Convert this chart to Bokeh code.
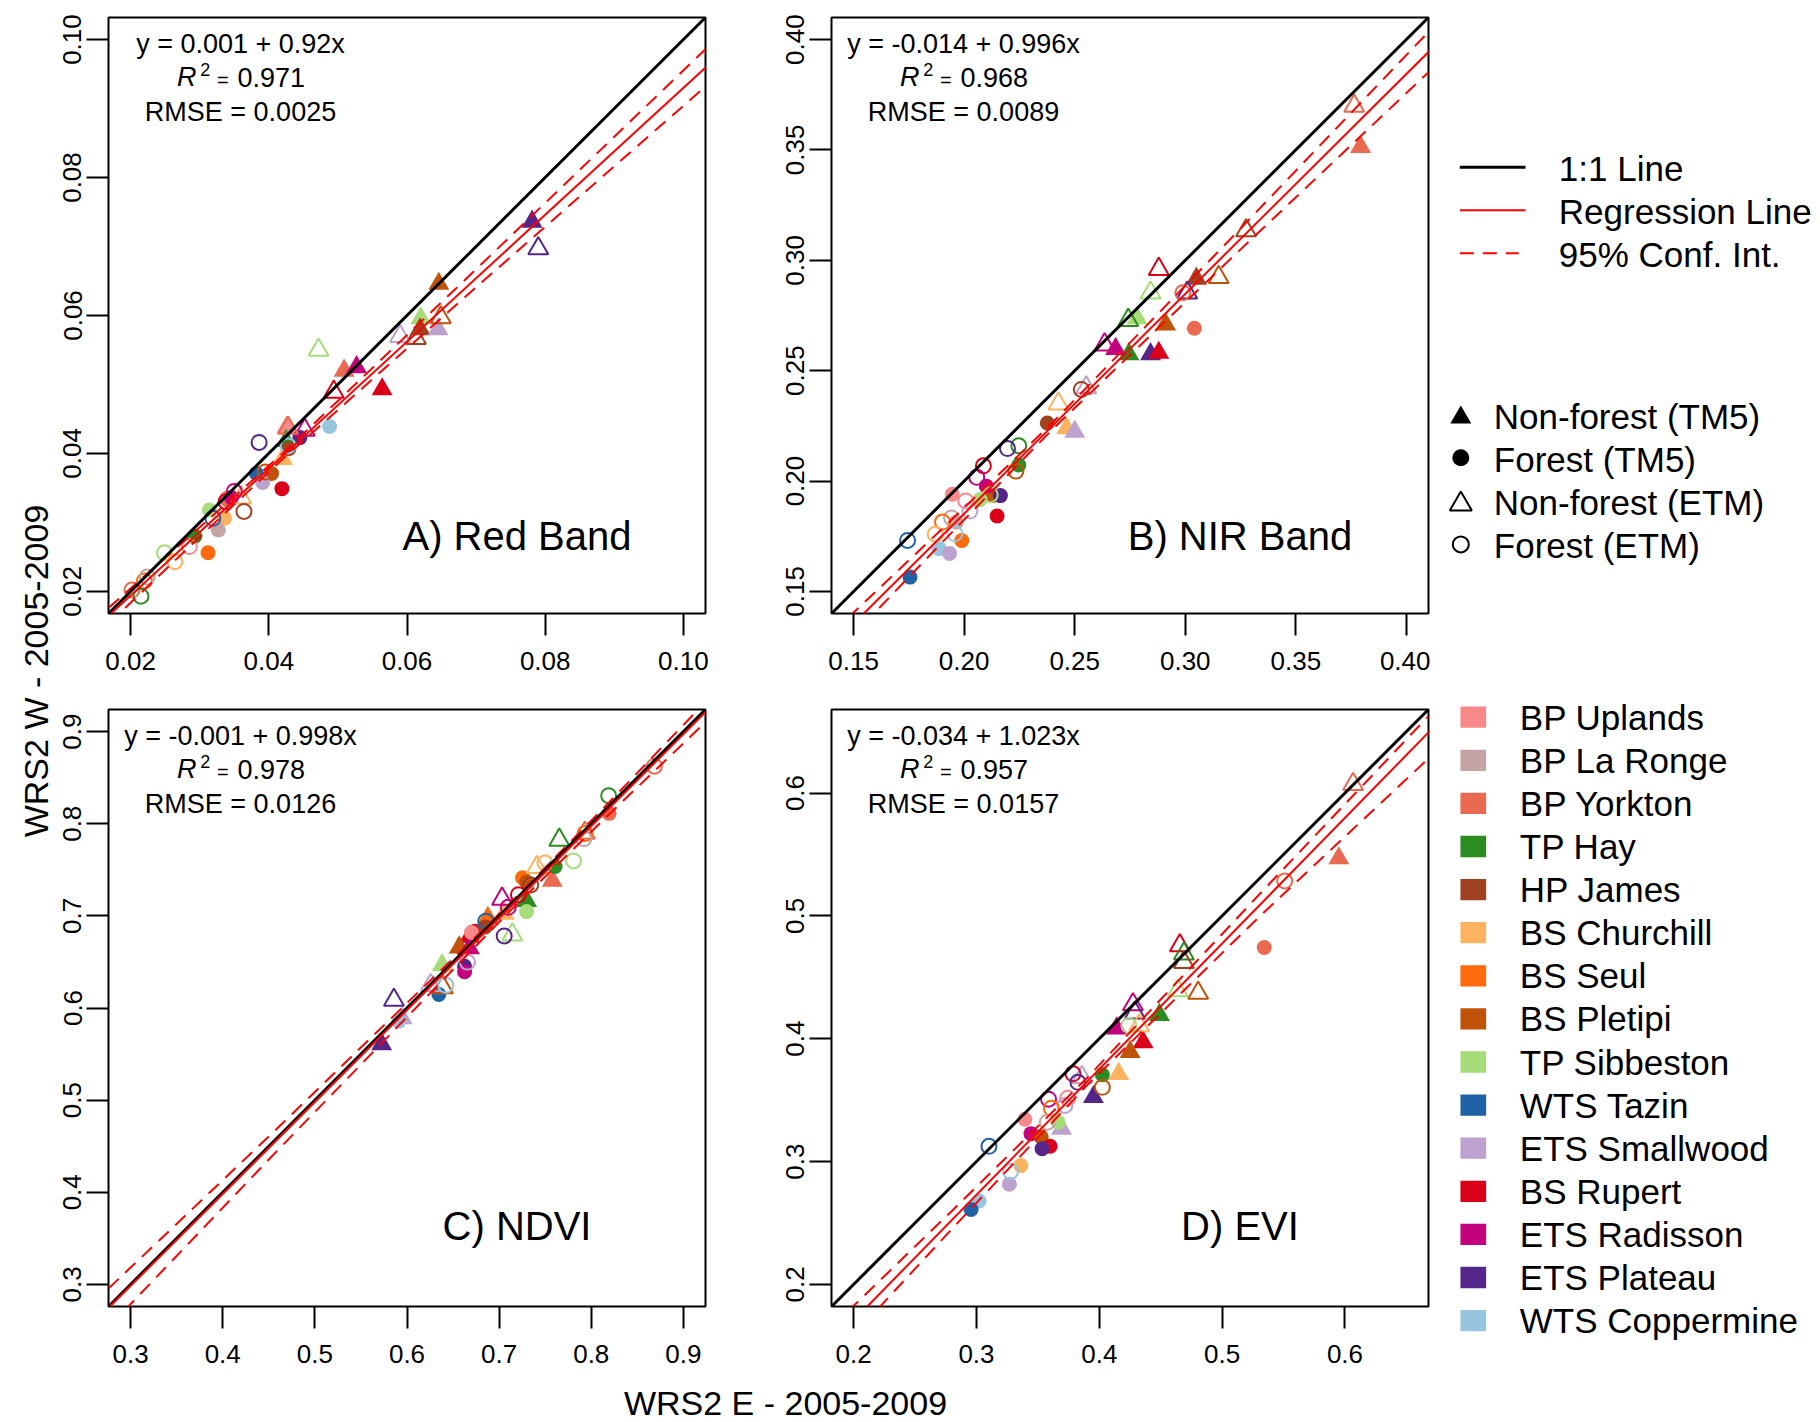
import math
from bokeh.plotting import figure
from bokeh.models import Range1d, FixedTicker, NumeralTickFormatter, Slope, Label
from bokeh.layouts import row, column
from bokeh.embed import file_html
from bokeh.resources import INLINE
from bokeh.core.properties import value

FONT = "Liberation Sans"

# ---------------- data ----------------
sites = ["BP Uplands", "BP La Ronge", "BP Yorkton", "TP Hay", "HP James",
         "BS Churchill", "BS Seul", "BS Pletipi", "TP Sibbeston", "WTS Tazin",
         "ETS Smallwood", "BS Rupert", "ETS Radisson", "ETS Plateau", "WTS Coppermine"]
site_colors = ["#F8898A", "#C4A5A4", "#E96A51", "#2B8C21", "#9F4222",
               "#FCB35F", "#FE6A0C", "#C0530A", "#A6DC7A", "#1F62A6",
               "#BDA1CE", "#DB0019", "#C3027E", "#54268A", "#97C4DE"]
kind_labels = ["Non-forest (TM5)", "Forest (TM5)", "Non-forest (ETM)", "Forest (ETM)"]
line_labels = ["1:1 Line", "Regression Line", "95% Conf. Int."]
x_title = "WRS2 E - 2005-2009"
y_title = "WRS2 W - 2005-2009"

# kind: 0 = non-forest TM5, 1 = forest TM5, 2 = non-forest ETM, 3 = forest ETM
# ---- Panel A: Red band
A_title = "A) Red Band"
A_lim = [0.02, 0.10]
A_ticks = [0.02, 0.04, 0.06, 0.08, 0.10]
A_eq, A_r2, A_rmse = "y = 0.001 + 0.92x", "0.971", "RMSE = 0.0025"
A_b0, A_b1 = 0.001, 0.92
A_ci_x = [0.0168, 0.030, 0.042, 0.070, 0.1032]
A_ci_hi = [0.0176, 0.0293, 0.0400, 0.0667, 0.0986]
A_ci_lo = [0.0153, 0.0279, 0.0392, 0.0641, 0.0932]
A_site = [13, 7, 8, 4, 10, 2, 12, 11, 5, 0, 3,
          14, 13, 4, 9, 7, 10, 11, 0, 8, 5, 1, 3, 6, 2, 12,
          13, 7, 10, 4, 8, 11, 12, 2, 5,
          13, 14, 7, 12, 4, 9, 8, 5, 0, 2, 6, 1, 3, 11]
A_kind = [0]*11 + [1]*15 + [2]*9 + [3]*14
A_x = [0.0781, 0.0646, 0.0620, 0.0619, 0.0645, 0.0509, 0.0527, 0.0564, 0.0420, 0.0426, 0.0425,
       0.0488, 0.0445, 0.0429, 0.0382, 0.0404, 0.0391, 0.0419, 0.0339, 0.0314, 0.0336, 0.0327, 0.0293, 0.0312, 0.0340, 0.0346,
       0.0790, 0.0649, 0.0590, 0.0613, 0.0472, 0.0494, 0.0452, 0.0428, 0.0360,
       0.0386, 0.0428, 0.0395, 0.0350, 0.0364, 0.0319, 0.0249, 0.0264, 0.0285, 0.0202, 0.0220, 0.0224, 0.0215, 0.0338]
A_y = [0.0736, 0.0646, 0.0596, 0.0580, 0.0580, 0.0520, 0.0525, 0.0493, 0.0392, 0.0438, 0.0418,
       0.0439, 0.0423, 0.0407, 0.0371, 0.0371, 0.0358, 0.0349, 0.0335, 0.0318, 0.0306, 0.0289, 0.0280, 0.0256, 0.0333, 0.0336,
       0.0697, 0.0597, 0.0570, 0.0567, 0.0550, 0.0489, 0.0434, 0.0437, 0.0336,
       0.0416, 0.0411, 0.0373, 0.0345, 0.0316, 0.0306, 0.0256, 0.0243, 0.0265, 0.0202, 0.0215, 0.0221, 0.0193, 0.0330]

# ---- Panel B: NIR band
B_title = "B) NIR Band"
B_lim = [0.15, 0.40]
B_ticks = [0.15, 0.20, 0.25, 0.30, 0.35, 0.40]
B_eq, B_r2, B_rmse = "y = -0.014 + 0.996x", "0.968", "RMSE = 0.0089"
B_b0, B_b1 = -0.014, 0.996
B_ci_x = [0.14, 0.19, 0.24, 0.32, 0.41]
B_ci_hi = [0.1310, 0.1783, 0.2265, 0.3092, 0.4035]
B_ci_lo = [0.1199, 0.1722, 0.2235, 0.3002, 0.3852]
B_site = [2, 4, 7, 8, 3, 13, 11, 12, 5, 10,
          2, 4, 3, 7, 12, 13, 8, 0, 11, 1, 6, 14, 10, 9,
          2, 4, 7, 11, 8, 13, 3, 12, 10, 5,
          2, 4, 3, 13, 11, 12, 7, 8, 0, 10, 1, 6, 5, 14, 9]
B_kind = [0]*10 + [1]*14 + [2]*10 + [3]*15
B_x = [0.3793, 0.3050, 0.2911, 0.2782, 0.2745, 0.2843, 0.2880, 0.2685, 0.2463, 0.2500,
       0.3041, 0.2376, 0.2247, 0.2127, 0.2100, 0.2164, 0.2072, 0.1946, 0.2149, 0.1965, 0.1989, 0.1887, 0.1934, 0.1755,
       0.3764, 0.3275, 0.3151, 0.2880, 0.2843, 0.3009, 0.2742, 0.2635, 0.2552, 0.2426,
       0.2989, 0.2530, 0.2247, 0.2196, 0.2087, 0.2057, 0.2234, 0.2118, 0.2007, 0.2026, 0.1943, 0.1902, 0.1869, 0.1958, 0.1744]
B_y = [0.3514, 0.2917, 0.2710, 0.2738, 0.2575, 0.2575, 0.2581, 0.2599, 0.2239, 0.2224,
       0.2692, 0.2263, 0.2073, 0.1934, 0.1977, 0.1934, 0.1916, 0.1940, 0.1842, 0.1814, 0.1731, 0.1694, 0.1672, 0.1565,
       0.3699, 0.3135, 0.2923, 0.2960, 0.2853, 0.2853, 0.2729, 0.2618, 0.2424, 0.2350,
       0.2853, 0.2415, 0.2160, 0.2147, 0.2069, 0.2017, 0.2045, 0.1938, 0.1910, 0.1864, 0.1833, 0.1814, 0.1759, 0.1762, 0.1731]

# ---- Panel C: NDVI
C_title = "C) NDVI"
C_lim = [0.3, 0.9]
C_ticks = [0.3, 0.4, 0.5, 0.6, 0.7, 0.8, 0.9]
C_eq, C_r2, C_rmse = "y = -0.001 + 0.998x", "0.978", "RMSE = 0.0126"
C_b0, C_b1 = -0.001, 0.998
C_ci_x = [0.276, 0.45, 0.71, 0.82, 0.924]
C_ci_hi = [0.2955, 0.4606, 0.7116, 0.8239, 0.9322]
C_ci_lo = [0.2535, 0.4356, 0.7036, 0.8109, 0.9102]
C_site = [2, 3, 5, 6, 11, 7, 12, 8, 10, 13,
          2, 3, 6, 7, 8, 11, 0, 13, 12, 9, 14, 4,
          3, 5, 12, 8, 10, 7, 13, 2,
          2, 3, 6, 1, 8, 5, 4, 11, 12, 9, 13, 10, 14]
C_kind = [0]*10 + [1]*12 + [2]*8 + [3]*13
C_x = [0.7577, 0.7298, 0.7055, 0.6877, 0.6678, 0.6567, 0.6678, 0.6381, 0.5947, 0.5725,
       0.8194, 0.7608, 0.7254, 0.7298, 0.7298, 0.6736, 0.6700, 0.6625, 0.6625, 0.6346, 0.5911, 0.6850,
       0.7653, 0.7409, 0.7032, 0.7143, 0.6257, 0.6390, 0.5858, 0.7930,
       0.8685, 0.8189, 0.7932, 0.7919, 0.7808, 0.7498, 0.7343, 0.7210, 0.7099, 0.6855, 0.7055, 0.6656, 0.6421]
C_y = [0.7381, 0.7162, 0.7024, 0.6979, 0.6773, 0.6658, 0.6649, 0.6466, 0.5890, 0.5607,
       0.8113, 0.7536, 0.7413, 0.7367, 0.7047, 0.6832, 0.6820, 0.6453, 0.6393, 0.6146, 0.5858, 0.6880,
       0.7825, 0.7527, 0.7184, 0.6796, 0.6247, 0.6224, 0.6087, 0.7900,
       0.8625, 0.8305, 0.7893, 0.7838, 0.7596, 0.7573, 0.7335, 0.7230, 0.7093, 0.6942, 0.6782, 0.6498, 0.6247]

# ---- Panel D: EVI
D_title = "D) EVI"
D_lim = [0.2, 0.65]
D_ticks = [0.2, 0.3, 0.4, 0.5, 0.6]
D_eq, D_r2, D_rmse = "y = -0.034 + 1.023x", "0.957", "RMSE = 0.0157"
D_b0, D_b1 = -0.034, 1.023
D_ci_x = [0.182, 0.28, 0.39, 0.53, 0.668]
D_ci_hi = [0.1652, 0.2598, 0.3680, 0.5172, 0.6626]
D_ci_lo = [0.1392, 0.2451, 0.3620, 0.4991, 0.6281]
D_site = [2, 3, 12, 11, 7, 5, 13, 10,
          2, 3, 0, 8, 12, 7, 11, 13, 5, 10, 14, 9,
          2, 11, 3, 4, 8, 7, 12, 13, 5, 10,
          2, 8, 11, 13, 7, 12, 0, 10, 6, 1, 9, 14]
D_kind = [0]*8 + [1]*12 + [2]*10 + [3]*12
D_x = [0.5950, 0.4490, 0.4141, 0.4357, 0.4251, 0.4158, 0.3952, 0.3693,
       0.5343, 0.4025, 0.3394, 0.3666, 0.3444, 0.3527, 0.3600, 0.3534, 0.3361, 0.3268, 0.3022, 0.2956,
       0.6066, 0.4656, 0.4689, 0.4689, 0.4639, 0.4805, 0.4274, 0.4290, 0.4324, 0.3859,
       0.5509, 0.4241, 0.3786, 0.3826, 0.4025, 0.3587, 0.3743, 0.3720, 0.3610, 0.3577, 0.3102, 0.3278]
D_y = [0.5469, 0.4194, 0.4084, 0.3971, 0.3892, 0.3714, 0.3525, 0.3268,
       0.4742, 0.3707, 0.3344, 0.3320, 0.3227, 0.3200, 0.3124, 0.3104, 0.2967, 0.2816, 0.2679, 0.2610,
       0.6072, 0.4759, 0.4691, 0.4622, 0.4392, 0.4372, 0.4279, 0.4211, 0.4108, 0.3686,
       0.5284, 0.4108, 0.3714, 0.3645, 0.3604, 0.3508, 0.3515, 0.3457, 0.3433, 0.3320, 0.3124, 0.2919]

# ---------------- styling / layout constants ----------------
FW = 597
MARKERS = ["triangle", "circle", "triangle", "circle"]
FILLED = [True, True, False, False]
SIZES = [21, 15, 20, 15]
DASH = "14 9"
PAGE_H = 1422
YLAB_W = 56
LEFT_B = 108 - YLAB_W
LEG_X0 = 1430
LEG_W = 1820 - LEG_X0


def make_panel(lim, ticks, fmt, title, eq, r2, rmse, b0, b1, ci_x, ci_lo, ci_hi,
               site, kind, xs, ys, fh, bl, br, bt, bb, title_up):
    lo, hi = lim
    ext = 0.04 * (hi - lo)
    r0, r1 = lo - ext, hi + ext
    p = figure(frame_width=FW, frame_height=fh,
               x_range=Range1d(r0, r1), y_range=Range1d(r0, r1),
               output_backend="svg", toolbar_location=None,
               min_border_left=bl, min_border_right=br,
               min_border_top=bt, min_border_bottom=bb)
    p.xgrid.visible = False
    p.ygrid.visible = False
    p.outline_line_color = "black"
    p.outline_line_width = 2
    p.outline_line_alpha = 1.0
    p.background_fill_color = "white"
    p.border_fill_color = "white"
    for ax in (p.xaxis[0], p.yaxis[0]):
        ax.ticker = FixedTicker(ticks=ticks)
        ax.formatter = NumeralTickFormatter(format=fmt)
        ax.axis_line_color = None
        ax.major_tick_out = 22
        ax.major_tick_in = 0
        ax.major_tick_line_width = 2
        ax.major_tick_line_color = "black"
        ax.minor_tick_line_color = None
        ax.major_label_text_font = FONT
        ax.major_label_text_font_size = "26px"
        ax.major_label_text_color = "black"
    p.xaxis[0].major_label_standoff = 16
    p.yaxis[0].major_label_standoff = 5
    p.yaxis[0].major_label_orientation = "parallel"

    for k in range(4):
        idx = [i for i, kk in enumerate(kind) if kk == k]
        xk = [xs[i] for i in idx]
        yk = [ys[i] for i in idx]
        cols = [site_colors[site[i]] for i in idx]
        if FILLED[k]:
            p.scatter(xk, yk, marker=MARKERS[k], size=SIZES[k],
                      fill_color=cols, line_color=None)
        else:
            p.scatter(xk, yk, marker=MARKERS[k], size=SIZES[k],
                      fill_color=None, line_color=cols, line_width=2)

    p.line(ci_x, ci_hi, line_color="red", line_width=2, line_dash=DASH)
    p.line(ci_x, ci_lo, line_color="red", line_width=2, line_dash=DASH)
    p.add_layout(Slope(gradient=1, y_intercept=0, line_color="black", line_width=3))
    p.add_layout(Slope(gradient=b1, y_intercept=b0, line_color="red", line_width=2))

    def px(dx):
        return r0 + dx * (r1 - r0) / FW

    def py(dy):
        return r1 - dy * (r1 - r0) / fh

    common = dict(text_font=FONT, text_color="black", text_baseline="middle")
    p.add_layout(Label(x=px(132), y=py(26.9), text=eq, text_align="center",
                       text_font_size="27px", **common))
    p.add_layout(Label(x=px(68.4), y=py(59.6), text="R", text_align="left",
                       text_font_style="italic", text_font_size="27px", **common))
    p.add_layout(Label(x=px(91.7), y=py(51.9), text="2", text_align="left",
                       text_font_size="18px", **common))
    p.add_layout(Label(x=px(108.4), y=py(62.1), text="=", text_align="left",
                       text_font_size="20px", **common))
    p.add_layout(Label(x=px(129), y=py(59.6), text=r2, text_align="left",
                       text_font_size="27px", **common))
    p.add_layout(Label(x=px(132), y=py(94.3), text=rmse, text_align="center",
                       text_font_size="27px", **common))
    p.add_layout(Label(x=px(408.5), y=py(fh - title_up), text=title, text_align="center",
                       text_font_size="40px", **common))
    return p


def blank(w, h):
    f = figure(width=w, height=h, x_range=Range1d(0, w), y_range=Range1d(0, h),
               x_axis_type=None, y_axis_type=None, min_border=0,
               output_backend="svg", toolbar_location=None)
    f.outline_line_color = None
    f.background_fill_color = "white"
    f.border_fill_color = "white"
    for g in f.grid:
        g.visible = False
    return f


pA = make_panel(A_lim, A_ticks, "0.00", A_title, A_eq, A_r2, A_rmse, A_b0, A_b1,
                A_ci_x, A_ci_lo, A_ci_hi, A_site, A_kind, A_x, A_y, 596, LEFT_B, 64, 17, 92, 78)
pB = make_panel(B_lim, B_ticks, "0.00", B_title, B_eq, B_r2, B_rmse, B_b0, B_b1,
                B_ci_x, B_ci_lo, B_ci_hi, B_site, B_kind, B_x, B_y, 596, 62, 2, 17, 92, 78)
pC = make_panel(C_lim, C_ticks, "0.0", C_title, C_eq, C_r2, C_rmse, C_b0, C_b1,
                C_ci_x, C_ci_lo, C_ci_hi, C_site, C_kind, C_x, C_y, 597, LEFT_B, 64, 4, 64, 81)
pD = make_panel(D_lim, D_ticks, "0.0", D_title, D_eq, D_r2, D_rmse, D_b0, D_b1,
                D_ci_x, D_ci_lo, D_ci_hi, D_site, D_kind, D_x, D_y, 597, 62, 2, 4, 64, 81)

# ---- legend column (page y measured from the top, converted to canvas coordinates)
leg = blank(LEG_W, PAGE_H)


def ly(page_y):
    return PAGE_H - page_y


def lx(page_x):
    return page_x - LEG_X0


text_kw = dict(text_font=value(FONT), text_font_size=value("35px"),
               text_baseline="middle", text_align="left", text_color="black")

line_cols = ["black", "red", "red"]
line_w = [3, 2, 2]
line_dash = ["solid", "solid", DASH]
line_end = [1525, 1525, 1518.3]
for i, lab in enumerate(line_labels):
    yy = 166.7 + 43 * i
    leg.line([lx(1459.3), lx(line_end[i])], [ly(yy), ly(yy)], line_color=line_cols[i],
             line_width=line_w[i], line_dash=line_dash[i])
    leg.text([lx(1558.3)], [ly(yy + 1.5)], text=[lab], **text_kw)

leg_sizes = [21, 17, 22, 16]
leg_off = [3, 0, 3, 0]
for k, lab in enumerate(kind_labels):
    cy = 414 + 43.3 * k
    if FILLED[k]:
        leg.scatter([lx(1460.3)], [ly(cy + leg_off[k])], marker=MARKERS[k], size=leg_sizes[k],
                    fill_color="black", line_color=None)
    else:
        leg.scatter([lx(1460.3)], [ly(cy + leg_off[k])], marker=MARKERS[k], size=leg_sizes[k],
                    fill_color=None, line_color="black", line_width=2)
    leg.text([lx(1493.3)], [ly(415.8 + 43.1 * k)], text=[lab], **text_kw)

sq_y = [ly(716.7 + 43.1 * i) for i in range(len(sites))]
leg.rect([lx(1472.8)] * len(sites), sq_y, width=25.7, height=21.3,
         fill_color=site_colors, line_color=None)
leg.text([lx(1519.3)] * len(sites), sq_y, text=sites, **text_kw)

# ---- axis titles
ylab = blank(YLAB_W, PAGE_H)
ylab.add_layout(Label(x=35.5, y=PAGE_H - 670.5, text=y_title, angle=math.pi / 2,
                      text_align="center", text_baseline="middle",
                      text_font=FONT, text_font_size="34px", text_color="black"))
XW = LEG_X0 - YLAB_W
XLAB_H = PAGE_H - 705 - 665
xlab = blank(XW, XLAB_H)
xlab.add_layout(Label(x=785 - YLAB_W, y=PAGE_H - 1402.5, text=x_title, text_align="center",
                      text_baseline="middle", text_font=FONT,
                      text_font_size="34px", text_color="black"))

layout = row(ylab, column(row(pA, pB), row(pC, pD), xlab), leg)

with open("out.html", "w") as f:
    f.write(file_html(layout, INLINE))
